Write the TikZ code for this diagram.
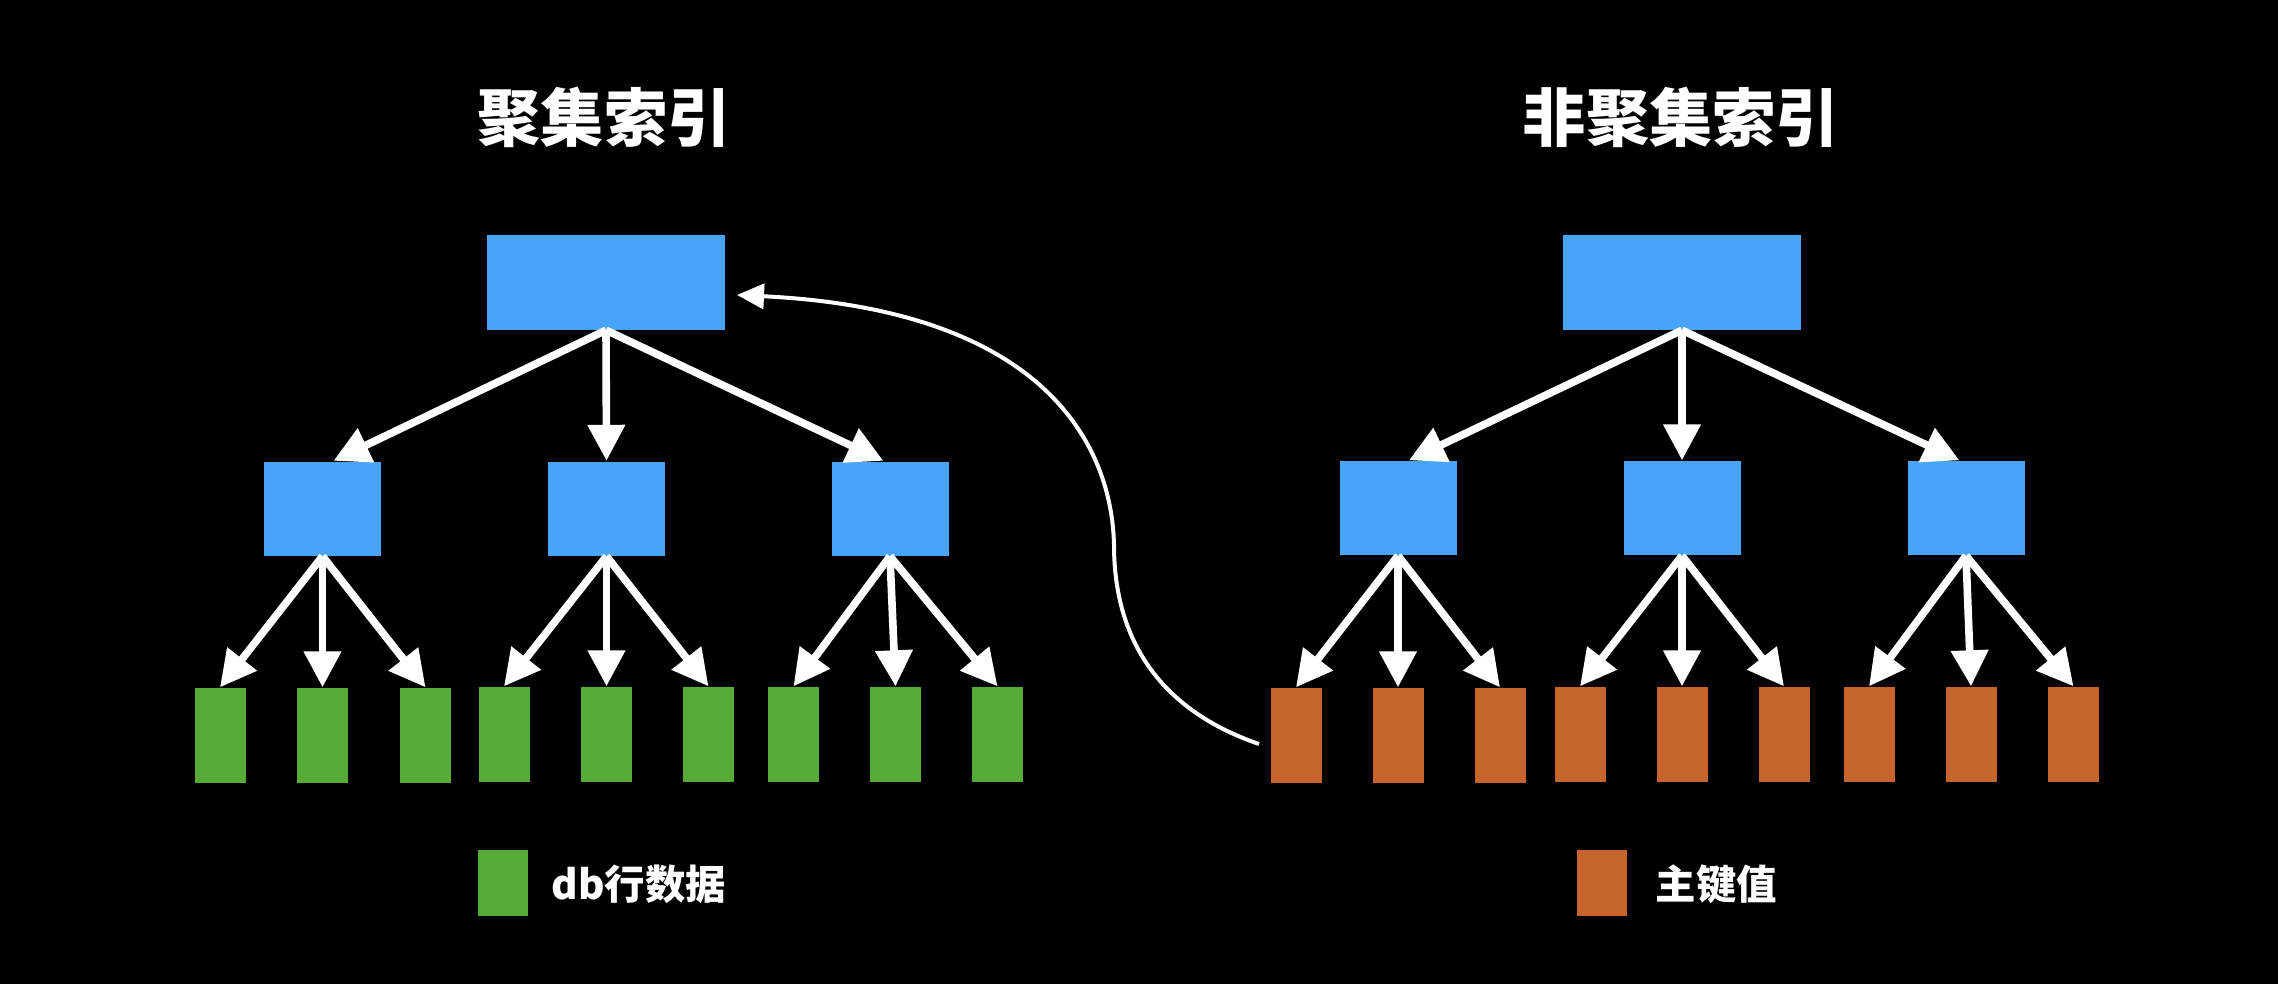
\documentclass[tikz,border=0pt]{standalone}
\usepackage{fontspec}
\usepackage{xcolor}
\usepackage{tikz}
\usetikzlibrary{arrows.meta}
\newfontfamily\cjk{Noto Sans CJK SC}
\definecolor{idxblue}{HTML}{47A4F9}
\definecolor{rowgreen}{HTML}{55AB35}
\definecolor{keyorange}{HTML}{C6652B}
\tikzset{
  blk/.style={fill=idxblue,inner sep=0pt,minimum width=1.17cm,minimum height=.94cm},
  rootblk/.style={blk,minimum width=2.38cm,minimum height=.95cm},
  leafg/.style={fill=rowgreen,inner sep=0pt,minimum width=.51cm,minimum height=.95cm},
  leafo/.style={fill=keyorange,inner sep=0pt,minimum width=.51cm,minimum height=.95cm},
  tarr/.style={draw=white,line width=.076cm,-{Triangle[width=.36cm,length=.36cm]}},
  title/.style={text=white,font=\cjk\bfseries\fontsize{18}{20}\selectfont},
  legtext/.style={text=white,anchor=west,inner sep=0pt,font=\cjk\bfseries\fontsize{11.5}{13}\selectfont}
}
\begin{document}
\begin{tikzpicture}
\fill[black] (0,0) rectangle (22.78,-9.84);
\useasboundingbox (0,0) rectangle (22.78,-9.84);

\node[title] (ltitle) at (6.04,-1.17) {聚集索引};
\node[rootblk] (lroot) at (6.06,-2.82) {};
\node[blk] (lm1) at (3.225,-5.085) {};
\node[blk] (lm2) at (6.065,-5.085) {};
\node[blk] (lm3) at (8.90,-5.085) {};
\node[leafg] (ll1) at (2.20,-7.355) {};
\node[leafg] (ll2) at (3.225,-7.355) {};
\node[leafg] (ll3) at (4.255,-7.355) {};
\node[leafg] (ll4) at (5.04,-7.345) {};
\node[leafg] (ll5) at (6.065,-7.345) {};
\node[leafg] (ll6) at (7.085,-7.345) {};
\node[leafg] (ll7) at (7.935,-7.345) {};
\node[leafg] (ll8) at (8.955,-7.345) {};
\node[leafg] (ll9) at (9.975,-7.345) {};

\draw[tarr] (lroot.south) -- (lm1.77);
\draw[tarr] (lroot.south) -- (lm2.north);
\draw[tarr] (lroot.south) -- (lm3.98);
\draw[tarr] (lm1.south) -- (ll1.north);
\draw[tarr] (lm1.south) -- (ll2.north);
\draw[tarr] (lm1.south) -- (ll3.north);
\draw[tarr] (lm2.south) -- (ll4.north);
\draw[tarr] (lm2.south) -- (ll5.north);
\draw[tarr] (lm2.south) -- (ll6.north);
\draw[tarr] (lm3.south) -- (ll7.north);
\draw[tarr] (lm3.south) -- (ll8.north);
\draw[tarr] (lm3.south) -- (ll9.north);

\node[title] (rtitle) at (16.81,-1.17) {非聚集索引};
\node[rootblk] (rroot) at (16.82,-2.82) {};
\node[blk] (rm1) at (13.98,-5.08) {};
\node[blk] (rm2) at (16.82,-5.08) {};
\node[blk] (rm3) at (19.66,-5.08) {};
\node[leafo] (rl1) at (12.96,-7.355) {};
\node[leafo] (rl2) at (13.98,-7.355) {};
\node[leafo] (rl3) at (15.00,-7.355) {};
\node[leafo] (rl4) at (15.80,-7.345) {};
\node[leafo] (rl5) at (16.82,-7.345) {};
\node[leafo] (rl6) at (17.84,-7.345) {};
\node[leafo] (rl7) at (18.69,-7.345) {};
\node[leafo] (rl8) at (19.71,-7.345) {};
\node[leafo] (rl9) at (20.735,-7.345) {};

\draw[tarr] (rroot.south) -- (rm1.77);
\draw[tarr] (rroot.south) -- (rm2.north);
\draw[tarr] (rroot.south) -- (rm3.98);
\draw[tarr] (rm1.south) -- (rl1.north);
\draw[tarr] (rm1.south) -- (rl2.north);
\draw[tarr] (rm1.south) -- (rl3.north);
\draw[tarr] (rm2.south) -- (rl4.north);
\draw[tarr] (rm2.south) -- (rl5.north);
\draw[tarr] (rm2.south) -- (rl6.north);
\draw[tarr] (rm3.south) -- (rl7.north);
\draw[tarr] (rm3.south) -- (rl8.north);
\draw[tarr] (rm3.south) -- (rl9.north);

% back to the clustered root
\coordinate (cs) at (12.59,-7.44);
\coordinate (ce) at (7.37,-2.95);
\draw[white,line width=.04cm,-{Triangle[width=.25cm,length=.27cm]}] (cs) .. controls (11.6,-7.1) and (11.14,-6.4) .. (11.14,-5.45) .. controls (11.12,-4.5) and (10.5,-3.1) .. (ce);

\node[leafg,minimum height=.66cm,minimum width=.50cm] (lkey) at (5.03,-8.83) {};
\node[legtext] (ltext) at (5.51,-8.84) {db行数据};
\node[leafo,minimum height=.66cm,minimum width=.50cm] (rkey) at (16.02,-8.83) {};
\node[legtext] (rtext) at (16.55,-8.84) {主键值};
\end{tikzpicture}
\end{document}
